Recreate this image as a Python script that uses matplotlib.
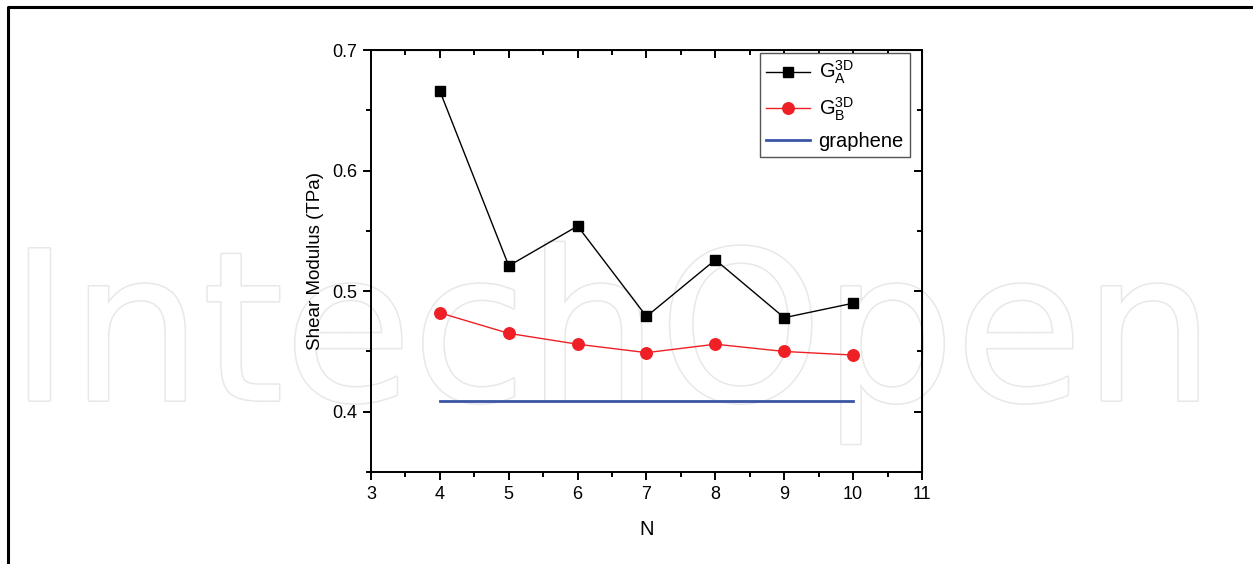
import numpy as np
import matplotlib
matplotlib.use('Agg')
import matplotlib.pyplot as plt
import matplotlib.patheffects as pe
from matplotlib.lines import Line2D
from matplotlib.ticker import MultipleLocator

plt.rcParams['font.family'] = ['Liberation Sans', 'DejaVu Sans']
plt.rcParams['mathtext.fontset'] = 'custom'
plt.rcParams['mathtext.rm'] = 'Liberation Sans'
plt.rcParams['mathtext.it'] = 'Liberation Sans'

# DATA
n_layers = [4, 5, 6, 7, 8, 9, 10]
g_a = [0.666, 0.521, 0.554, 0.479, 0.526, 0.478, 0.490]
g_b = [0.482, 0.465, 0.456, 0.449, 0.456, 0.450, 0.447]
graphene_x = [4, 10]
graphene_g = [0.4085, 0.4085]

fig = plt.figure(figsize=(12.53, 5.64), dpi=100)

# watermark behind everything
fig.text(0.007, 0.29, 'IntechOpen', fontsize=150, color='white', zorder=-5,
         family='DejaVu Sans',
         path_effects=[pe.Stroke(linewidth=2.2, foreground='#e8e8e8'), pe.Normal()])

# outer frame
fig.add_artist(Line2D([0.006, 0.006, 1.0], [0.0, 0.988, 0.988],
                      transform=fig.transFigure, color='black', lw=2.2))

ax = fig.add_axes([0.2961, 0.1631, 0.4397, 0.7482])
ax.patch.set_alpha(0)

ax.plot(n_layers, g_a, color='black', lw=1.0, marker='s', markersize=7.5,
        label=r'$\mathrm{G}_{\mathrm{A}}^{\mathrm{3D}}$')
ax.plot(n_layers, g_b, color='#ee2026', lw=1.0, marker='o', markersize=8.3,
        label=r'$\mathrm{G}_{\mathrm{B}}^{\mathrm{3D}}$')
ax.plot(graphene_x, graphene_g, color='#3a55a4', lw=2.0, label='graphene')

ax.set_xlim(3, 11)
ax.set_ylim(0.35, 0.7)
ax.xaxis.set_major_locator(MultipleLocator(1))
ax.xaxis.set_minor_locator(MultipleLocator(0.5))
ax.yaxis.set_major_locator(MultipleLocator(0.1))
ax.yaxis.set_minor_locator(MultipleLocator(0.05))
ax.set_yticks([0.4, 0.5, 0.6, 0.7])
ax.set_yticklabels(['0.4', '0.5', '0.6', '0.7'])
ax.tick_params(which='major', direction='out', length=6, width=1.4, labelsize=13, pad=4)
ax.tick_params(which='minor', direction='out', length=3.5, width=1.4)
for s in ax.spines.values():
    s.set_linewidth(1.4)

# mirrored ticks on top and right, pointing inward
top = ax.secondary_xaxis('top')
top.xaxis.set_major_locator(MultipleLocator(1))
top.xaxis.set_minor_locator(MultipleLocator(0.5))
top.tick_params(which='major', direction='in', length=6, width=1.4, labeltop=False)
top.tick_params(which='minor', direction='in', length=3.5, width=1.4)
right = ax.secondary_yaxis('right')
right.yaxis.set_major_locator(MultipleLocator(0.1))
right.yaxis.set_minor_locator(MultipleLocator(0.05))
right.tick_params(which='major', direction='in', length=6, width=1.4, labelright=False)
right.tick_params(which='minor', direction='in', length=3.5, width=1.4)

ax.set_xlabel('N', fontsize=14.5, labelpad=12)
ax.set_ylabel('Shear Modulus (TPa)', fontsize=13.5, labelpad=6)

leg = ax.legend(loc='upper right', bbox_to_anchor=(0.978, 0.993), fontsize=14.5,
                fancybox=False, framealpha=1, edgecolor='#555555',
                handlelength=2.2, borderpad=0.3, labelspacing=0.45,
                handletextpad=0.4, borderaxespad=0.0)
leg.get_frame().set_linewidth(1.0)

fig.savefig('out.png', dpi=100)
